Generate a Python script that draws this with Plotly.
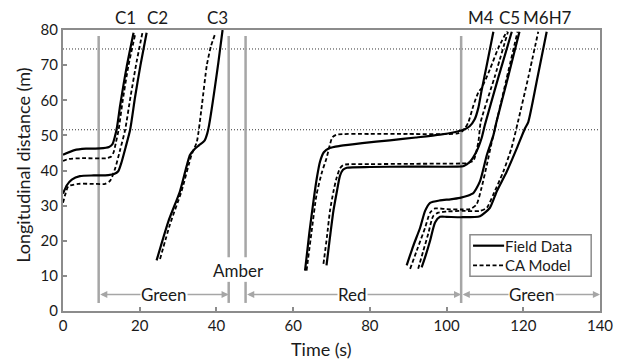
import plotly.graph_objects as go

# ---------------- data ----------------
c1_field_t = [0, 3, 6, 9.6, 12.0, 12.9, 13.5, 14.1, 14.9, 16.6, 18.4]
c1_field_d = [44.5, 45.8, 46.2, 46.3, 46.7, 47.5, 49.5, 52.5, 58.5, 69.5, 79.2]
c1_ca_t = [0, 1.5, 5, 11.4, 12.6, 13.2, 13.8, 14.5, 15.5, 17.0, 18.8]
c1_ca_d = [42.7, 43.3, 43.5, 43.5, 44.0, 45.2, 48.0, 51.6, 59.4, 69.5, 78.7]

c2_field_t = [0, 1.0, 2.3, 4.4, 8, 11.8, 13.3, 14.4, 15.3, 16.3, 17.5, 18.8, 20.2, 21.8]
c2_field_d = [33.4, 35.8, 37.4, 38.4, 38.6, 38.7, 39.0, 39.8, 42.5, 46.5, 51.6, 61, 70, 79.2]
c2_ca_t = [0, 0.6, 1.4, 4.0, 8, 11.0, 12.3, 13.6, 14.8, 16.2, 17.6, 19.2, 20.7]
c2_ca_d = [30.8, 33.2, 35.5, 36.2, 36.2, 36.2, 37.1, 40.6, 45.5, 51.6, 61, 71, 79.2]

c3_field_t = [24.4, 27.5, 30.5, 33.1, 34.2, 35.5, 36.9, 37.6, 38.1, 40.5, 41.6]
c3_field_d = [14.4, 25.6, 34.1, 44.4, 46.0, 47.2, 48.5, 50.5, 53, 70.7, 80]
c3_ca_t = [25.3, 27.9, 30.9, 33.5, 34.9, 36.2, 37.5, 38.6, 39.6]
c3_ca_d = [14.8, 24.7, 34.1, 44.4, 48.2, 58.5, 70, 75.5, 78.7]

m4_field_t = [63.1, 64.2, 65.3, 66.2, 67.0, 68.0, 69.5, 72.2, 78, 85.2, 92, 98.3,
              102.0, 104.4, 106.0, 107.3, 108.3, 109.1, 110.5, 112.2]
m4_field_d = [11.5, 22, 31.3, 38, 42.5, 45.2, 46.4, 47.0, 47.8, 48.6, 49.4, 50.2,
              50.9, 51.6, 52.6, 54.5, 57.9, 62.6, 70.1, 79.5]
m4_ca_t = [63.5, 64.8, 66.1, 67.5, 68.7, 69.5, 70.2, 71.3, 80, 90, 102.6, 103.9,
           104.8, 105.7, 107.0, 108.3, 109.1, 111.3, 113.5, 115.7]
m4_ca_d = [11.5, 22.5, 33.1, 39.5, 43.5, 47, 49.4, 50.2, 50.4, 50.4, 50.5, 51.0,
           52.0, 53.8, 58.5, 62.3, 63.4, 68.8, 74.9, 79.6]

c5_field_t = [68.7, 69.6, 70.5, 71.4, 72.2, 73.0, 74.0, 80, 90, 102.6, 104.5,
              106.1, 107.8, 109.1, 110.0, 113.5, 117.0]
c5_field_d = [13.0, 21, 28.5, 34, 38.5, 40.2, 40.8, 41.0, 41.1, 41.1, 41.3,
              42.5, 45.4, 49.1, 53.0, 66.5, 79.5]
c5_ca_t = [67.9, 68.8, 69.6, 70.5, 71.3, 72.2, 73.1, 80, 90, 104, 105.5, 107.0,
           108.3, 108.9, 112.5, 116.0]
c5_ca_d = [13.4, 21, 28.5, 34, 37.8, 40.6, 41.6, 41.8, 41.9, 42.0, 42.1, 42.8,
           48.2, 53.8, 66.5, 79.5]

m6_field_t = [89.6, 91.3, 93.1, 94.4, 95.7, 98.3, 101, 103.5, 105.5, 107.0,
              108.7, 110.5, 112.2, 113.0, 116.0, 119.0]
m6_field_d = [13.0, 18.5, 23.7, 28.5, 30.8, 31.5, 31.8, 32.2, 32.8, 33.6,
              36.9, 44.4, 50.0, 53.8, 66.5, 79.5]
m6_ca_t = [90.5, 92.5, 94.4, 95.7, 97.0, 100, 104, 106.1, 107.8, 109.1, 110.5,
           111.8, 112.5, 115.5, 118.5]
m6_ca_d = [12.0, 18, 23.7, 28.0, 29.2, 29.0, 28.9, 29.0, 30.3, 35.0, 41.6,
           48.2, 51.4, 65.5, 79.5]

h7_field_t = [93.5, 94.6, 95.7, 97.0, 98.3, 100, 104, 108.7, 111.3, 113.1,
              115.7, 118.3, 120.4, 121.3, 123.7, 126.1]
h7_field_d = [12.4, 16, 20.0, 25.2, 26.8, 26.8, 26.7, 27.0, 29.4, 34.1,
              39.7, 46.3, 51.9, 53.8, 66.5, 79.5]
h7_ca_t = [92.6, 93.9, 95.2, 96.5, 97.8, 100, 104, 108.7, 110.5, 112.2,
           114.8, 116.9, 118.6, 121.3, 123.9]
h7_ca_d = [12.0, 17, 21.9, 27.0, 28.0, 28.3, 28.5, 28.5, 29.4, 33.2,
           39.7, 46.3, 53.8, 66.5, 79.5]

signal_t = [9.3, 43.2, 47.6, 103.8]
ref_lines_d = [74.6, 51.6]
phase_names = ["Green", "Red", "Green"]
phase_start = [9.3, 47.6, 103.8]
phase_end = [43.2, 103.8, 140]
phase_label_t = [26.3, 75.5, 122.2]
vehicle_labels = ["C1", "C2", "C3", "M4", "C5", "M6H7"]
vehicle_label_t = [16.2, 24.7, 40.4, 109.1, 116.3, 126.4]
legend_names = ["Field Data", "CA Model"]

FONT = "Lato"
TXT = "#1a1a1a"
GRID = "#8c8c8c"
SIG = "#a6a6a6"
SOLID = dict(color="black", width=2.2)
DASHED = dict(color="black", width=1.8, dash="4px,2.5px")

fig = go.Figure()

field = [(c1_field_t, c1_field_d), (c2_field_t, c2_field_d), (c3_field_t, c3_field_d),
         (m4_field_t, m4_field_d), (c5_field_t, c5_field_d), (m6_field_t, m6_field_d),
         (h7_field_t, h7_field_d)]
ca = [(c1_ca_t, c1_ca_d), (c2_ca_t, c2_ca_d), (c3_ca_t, c3_ca_d),
      (m4_ca_t, m4_ca_d), (c5_ca_t, c5_ca_d), (m6_ca_t, m6_ca_d),
      (h7_ca_t, h7_ca_d)]

# reference dotted lines
for d in ref_lines_d:
    fig.add_trace(go.Scatter(x=[0, 140], y=[d, d], mode="lines", showlegend=False,
                             hoverinfo="skip",
                             line=dict(color="#333333", width=1, dash="1px,2px")))

# signal lines
for t in signal_t:
    if t in (43.2, 47.6):
        segs = [(2.3, 8.3), (15.3, 78.3)]
    else:
        segs = [(2.3, 78.3)]
    for a, b in segs:
        fig.add_trace(go.Scatter(x=[t, t], y=[a, b], mode="lines", showlegend=False,
                                 hoverinfo="skip", line=dict(color=SIG, width=2.5)))

for t, d in field:
    fig.add_trace(go.Scatter(x=t, y=d, mode="lines", name="Field Data", showlegend=False,
                             line=dict(**SOLID, shape="spline", smoothing=0.6)))
for t, d in ca:
    fig.add_trace(go.Scatter(x=t, y=d, mode="lines", name="CA Model", showlegend=False,
                             line=dict(**DASHED, shape="spline", smoothing=0.6)))

# hand-made legend (box + samples + labels) placed in the lower-right corner
legend_y = [18.6, 13.0]
fig.add_shape(type="rect", xref="x", yref="y", x0=106.1, x1=137.7, y0=9.9, y1=21.7,
              line=dict(color=GRID, width=1.5), fillcolor="white", layer="below")
fig.add_trace(go.Scatter(x=[106.9, 115.0], y=[legend_y[0]] * 2, mode="lines",
                         showlegend=False, hoverinfo="skip", line=SOLID))
fig.add_trace(go.Scatter(x=[106.9, 115.2], y=[legend_y[1]] * 2, mode="lines",
                         showlegend=False, hoverinfo="skip", line=DASHED))

ann = []
for name, yy in zip(legend_names, legend_y):
    ann.append(dict(x=115.1, y=yy, xref="x", yref="y", xanchor="left", yanchor="middle",
                    text=name, showarrow=False, borderpad=0,
                    font=dict(family=FONT, size=15, color=TXT)))
# phase arrows
for s, e in zip(phase_start, phase_end):
    ann.append(dict(x=e, y=4.7, ax=s, ay=4.7, xref="x", yref="y", axref="x", ayref="y",
                    text="", showarrow=True, arrowhead=2, startarrowhead=2,
                    arrowside="end+start", arrowsize=1.1, startarrowsize=1.1,
                    arrowwidth=1.3, arrowcolor=SIG, standoff=0, startstandoff=0))
for name, t in zip(phase_names, phase_label_t):
    ann.append(dict(x=t, y=4.7, xref="x", yref="y", text=name, showarrow=False,
                    bgcolor="white", borderpad=0, xanchor="center", yanchor="middle",
                    font=dict(family=FONT, size=17, color=TXT)))
ann.append(dict(x=45.7, y=11.6, xref="x", yref="y", text="Amber", showarrow=False,
                xanchor="center", yanchor="middle",
                font=dict(family=FONT, size=17, color=TXT)))
for lab, t in zip(vehicle_labels, vehicle_label_t):
    ann.append(dict(x=t, y=1.0, xref="x", yref="paper", yanchor="bottom",
                    xanchor="center", text=lab, showarrow=False,
                    font=dict(family=FONT, size=17, color=TXT)))
# axis titles
ann.append(dict(x=0.482, y=-0.134, xref="paper", yref="paper", text="Time (s)",
                xanchor="center", yanchor="middle",
                showarrow=False, font=dict(family=FONT, size=18, color=TXT)))
ann.append(dict(x=-0.0745, y=0.52, xref="paper", yref="paper",
                xanchor="center", yanchor="middle",
                text="Longitudinal distance (m)", textangle=-90, showarrow=False,
                font=dict(family=FONT, size=18, color=TXT)))

# the page body adds an 8px offset, so margins are shifted to compensate
fig.update_layout(
    width=628, height=362,
    margin=dict(l=55, r=36, t=19, b=59),
    paper_bgcolor="white", plot_bgcolor="white",
    font=dict(family=FONT, size=15, color=TXT),
    annotations=ann,
    showlegend=False,
)
fig.update_xaxes(range=[0, 140], dtick=20, showgrid=False, zeroline=False,
                 showline=True, linecolor=GRID, linewidth=2, mirror=True,
                 ticks="inside", ticklen=4, tickcolor=GRID, tickwidth=1.5,
                 tickfont=dict(family=FONT, size=15, color=TXT))
fig.update_yaxes(range=[0, 80], dtick=10, showgrid=False, zeroline=False,
                 showline=True, linecolor=GRID, linewidth=2, mirror=True,
                 ticks="inside", ticklen=4, tickcolor=GRID, tickwidth=1.5,
                 tickfont=dict(family=FONT, size=15, color=TXT))

fig.write_html("out.html")
